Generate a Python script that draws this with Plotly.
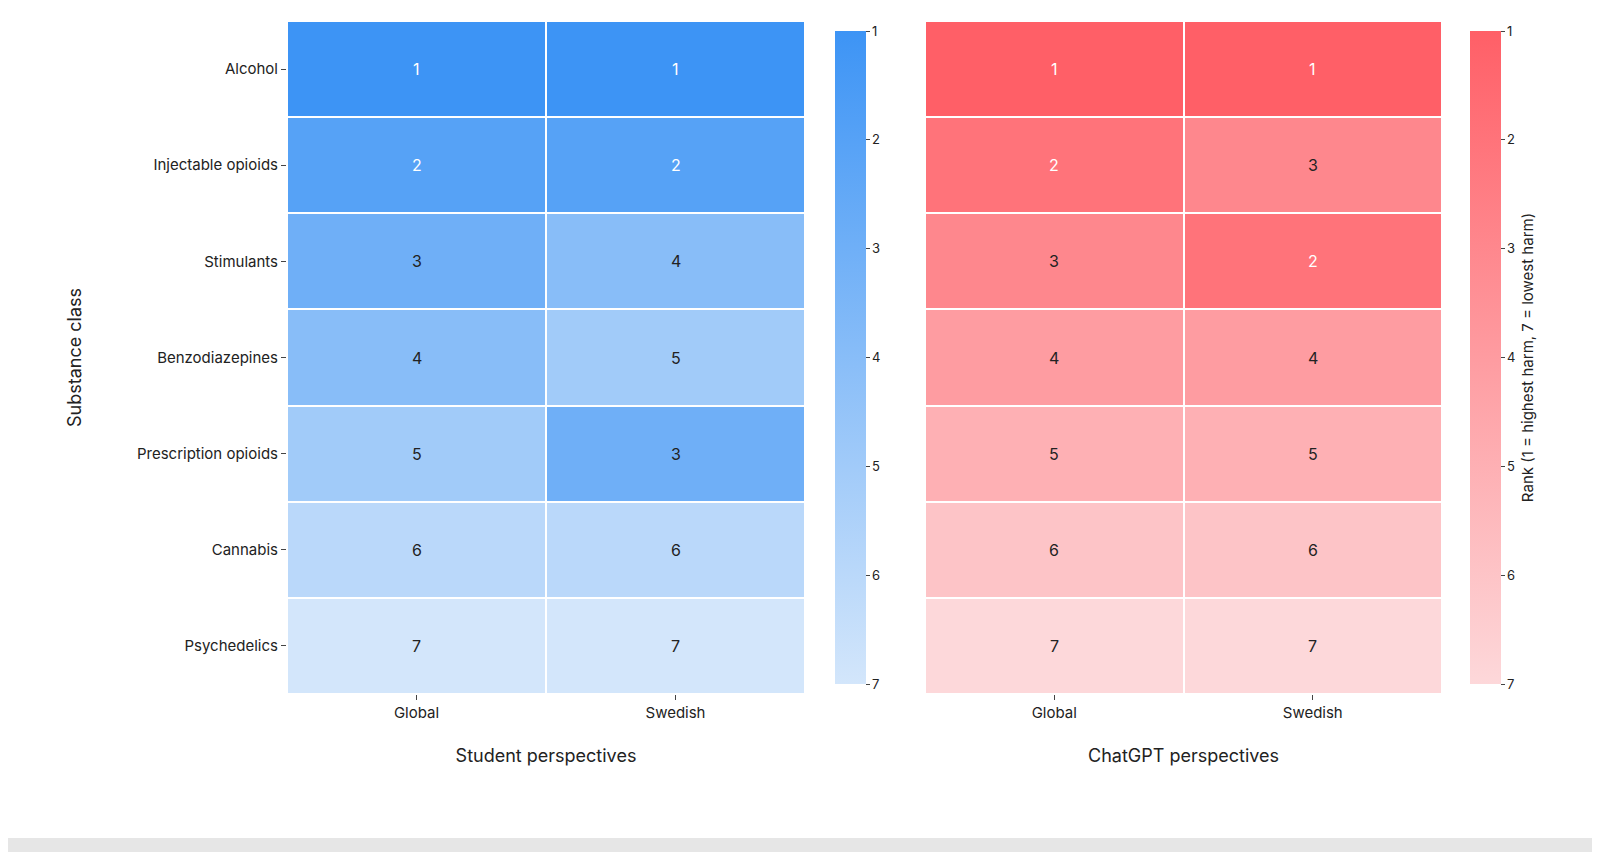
import plotly.graph_objects as go

substances = ["Alcohol", "Injectable opioids", "Stimulants", "Benzodiazepines",
              "Prescription opioids", "Cannabis", "Psychedelics"]
columns = ["Global", "Swedish"]
student_global = [1, 2, 3, 4, 5, 6, 7]
student_swedish = [1, 2, 4, 5, 3, 6, 7]
gpt_global = [1, 2, 3, 4, 5, 6, 7]
gpt_swedish = [1, 3, 2, 4, 5, 6, 7]
ranks = [1, 2, 3, 4, 5, 6, 7]

W, H = 1600, 852
FONT = "Inter, Roboto, DejaVu Sans, sans-serif"

blue_scale = [[0, "#d3e6fb"], [1, "#3d94f5"]]
red_scale = [[0, "#fdd8da"], [1, "#ff5f67"]]


def heat(g, s, scale, xa, ya, cb_x, cb_title):
    z = [[-a, -b] for a, b in zip(g, s)]
    return go.Heatmap(
        z=z, x=columns, y=substances, xaxis=xa, yaxis=ya,
        colorscale=scale, zmin=-7, zmax=-1, xgap=2, ygap=2,
        hoverinfo="skip",
        colorbar=dict(
            x=cb_x, xanchor="left", y=1 - 13 / H, yanchor="top",
            len=673 / H, lenmode="fraction", thickness=31,
            outlinewidth=0, ticks="outside", ticklen=4,
            tickvals=[-r for r in ranks], ticktext=[str(r) for r in ranks],
            tickfont=dict(size=13, color="#222"),
            title=dict(text=cb_title, side="right", font=dict(size=15, color="#222")),
        ),
    )


fig = go.Figure()
fig.add_trace(heat(student_global, student_swedish, blue_scale, "x", "y", 817 / W, ""))
fig.add_trace(heat(gpt_global, gpt_swedish, red_scale, "x2", "y2", 1452 / W,
                   "Rank (1 = highest harm, 7 = lowest harm)"))

# cell labels
for xa, ya, g, s, lim in [("x", "y", student_global, student_swedish, 2),
                          ("x2", "y2", gpt_global, gpt_swedish, 2)]:
    for col, vals in zip(columns, [g, s]):
        for sub, v in zip(substances, vals):
            fig.add_annotation(x=col, y=sub, xref=xa, yref=ya, text=str(v),
                               showarrow=False,
                               font=dict(size=16, color="white" if v <= lim else "#222"))

ydom = [1 - 686 / H, 1 - 13 / H]
fig.update_layout(
    width=W, height=H, margin=dict(l=0, r=0, t=0, b=0),
    plot_bgcolor="white", paper_bgcolor="white",
    font=dict(family=FONT, size=15, color="#222"),
    xaxis=dict(domain=[279 / W, 797 / W], showgrid=False, ticks="outside",
               title=dict(text="Student perspectives", standoff=28)),
    yaxis=dict(domain=ydom, autorange="reversed", showgrid=False, ticks="outside",
               ticklen=5, title=dict(text="Substance class", standoff=50)),
    xaxis2=dict(domain=[917 / W, 1434 / W], anchor="y2", showgrid=False, ticks="outside",
                title=dict(text="ChatGPT perspectives", standoff=28)),
    yaxis2=dict(domain=ydom, anchor="x2", autorange="reversed", showgrid=False,
                showticklabels=False),
)
fig.add_shape(type="rect", xref="paper", yref="paper", x0=0, x1=1,
              y0=0, y1=22 / H, fillcolor="#e6e6e6", line_width=0, layer="below")

fig.write_html("out.html")
